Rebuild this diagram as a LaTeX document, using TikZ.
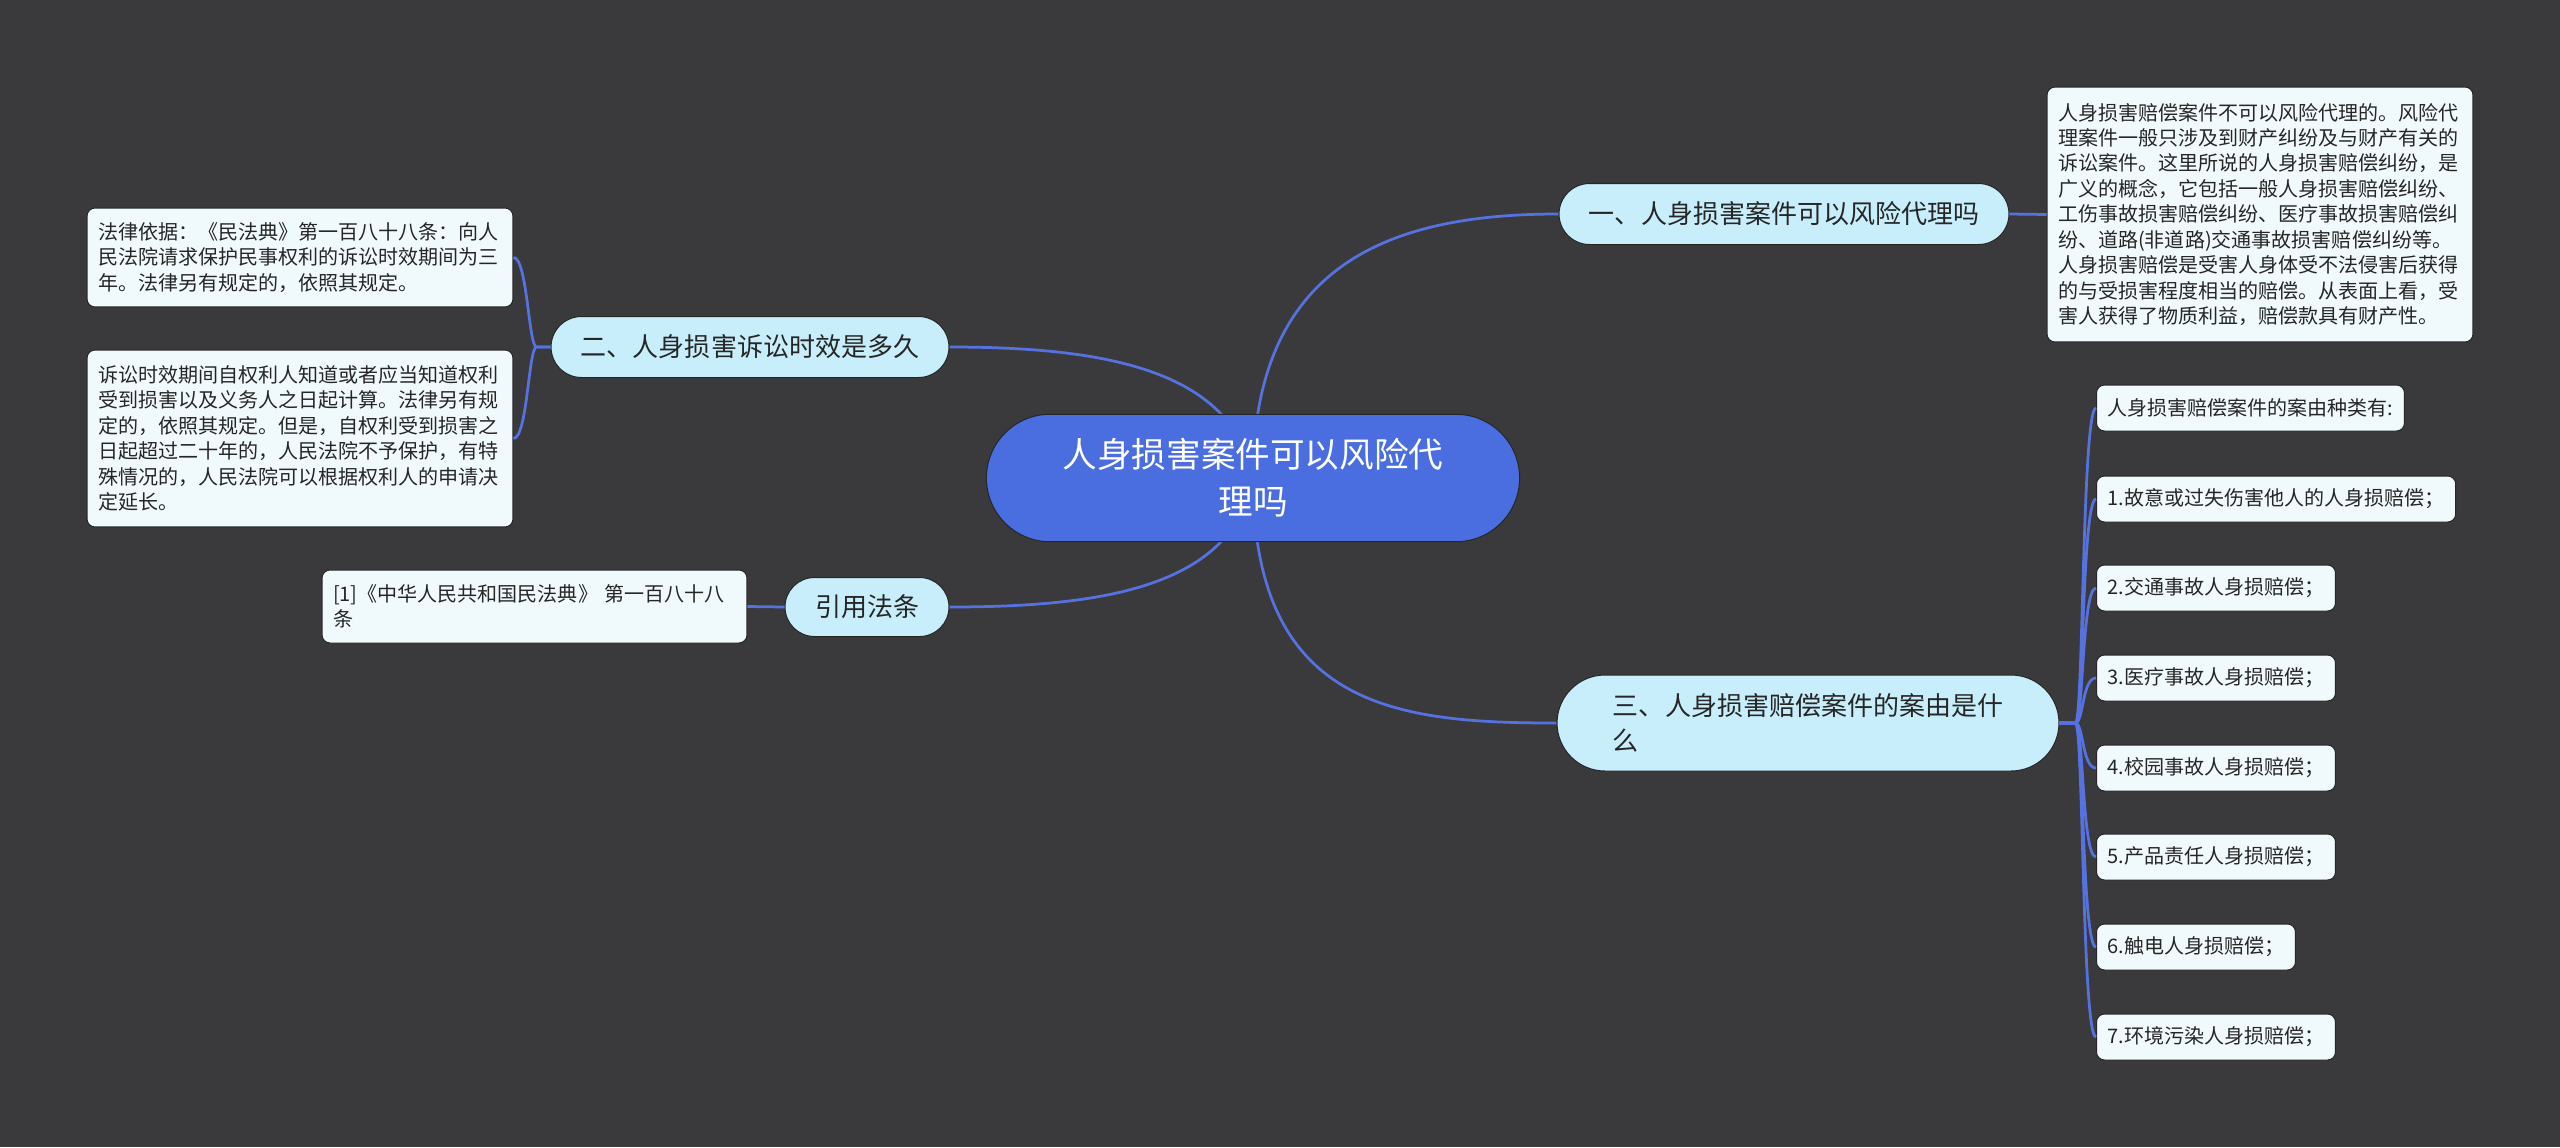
\documentclass[tikz,border=0pt]{standalone}
\usepackage{fontspec}
\setmainfont{Noto Sans CJK SC}
\usepackage{tikz}
\usetikzlibrary{
  positioning,
  shapes.misc,
  backgrounds
}
\definecolor{BgGray}{HTML}{3A393B}
\definecolor{RootBlue}{HTML}{4A6EE0}
\definecolor{LineBlue}{HTML}{5672E0}
\definecolor{BranchCyan}{HTML}{C8EEFC}
\definecolor{LeafWhite}{HTML}{F0FAFD}
\definecolor{EdgeDark}{HTML}{262626}
\definecolor{TextDark}{HTML}{262626}

\begin{document}
\begin{tikzpicture}[
  x=0.02cm,y=-0.02cm,
  rootbox/.style={rounded rectangle,draw=EdgeDark,line width=0.02cm,
    fill=RootBlue,text=white,minimum width=10.9cm,minimum height=2.55cm,
    align=center,font=\fontsize{19.7}{26.7}\selectfont},
  branchbox/.style={rounded rectangle,draw=EdgeDark,line width=0.02cm,
    fill=BranchCyan,text=TextDark,minimum height=1.22cm,inner xsep=0pt,
    font=\fontsize{14.8}{20}\selectfont},
  leafbox/.style={draw=EdgeDark,line width=0.02cm,fill=LeafWhite,
    text=TextDark,rounded corners=0.16cm,inner xsep=0.22cm,inner ysep=0pt,
    align=left,font=\fontsize{11.4}{14.5}\selectfont},
  conn/.style={draw=LineBlue,line width=0.055cm},
]
\useasboundingbox (0,0) rectangle (2560,1147);

% —— 中心与分支 ——
\node[rootbox] (root) at (1253,478)
  {人身损害案件可以风险代\\理吗};
\node[branchbox,minimum width=9.0cm] (b1) at (1784,214)
  {一、人身损害案件可以风险代理吗};
\node[branchbox,minimum width=7.96cm] (b2) at (750,347)
  {二、人身损害诉讼时效是多久};
\node[branchbox,minimum width=3.28cm,minimum height=1.18cm] (bref) at (867,607)
  {引用法条};
\node[branchbox,minimum width=10.04cm,minimum height=1.92cm,align=left] (b3) at (1808,723)
  {三、人身损害赔偿案件的案由是什\\么};

% —— 叶子 ——
\node[leafbox,text width=8.08cm,minimum height=5.1cm] (d1) at (2260,214.5)
  {人身损害赔偿案件不可以风险代理的。风险代\\
   理案件一般只涉及到财产纠纷及与财产有关的\\
   诉讼案件。这里所说的人身损害赔偿纠纷，是\\
   广义的概念，它包括一般人身损害赔偿纠纷、\\
   工伤事故损害赔偿纠纷、医疗事故损害赔偿纠\\
   纷、道路(非道路)交通事故损害赔偿纠纷等。\\
   人身损害赔偿是受害人身体受不法侵害后获得\\
   的与受损害程度相当的赔偿。从表面上看，受\\
   害人获得了物质利益，赔偿款具有财产性。};
\node[leafbox,text width=8.08cm,minimum height=1.98cm] (l1) at (300,257.5)
  {法律依据：《民法典》第一百八十八条：向人\\
   民法院请求保护民事权利的诉讼时效期间为三\\
   年。法律另有规定的，依照其规定。};
\node[leafbox,text width=8.08cm,minimum height=3.54cm] (l2) at (300,438.5)
  {诉讼时效期间自权利人知道或者应当知道权利\\
   受到损害以及义务人之日起计算。法律另有规\\
   定的，依照其规定。但是，自权利受到损害之\\
   日起超过二十年的，人民法院不予保护，有特\\
   殊情况的，人民法院可以根据权利人的申请决\\
   定延长。};
\node[leafbox,text width=8.06cm,minimum height=1.46cm] (lref) at (534.5,606.5)
  {[1]《中华人民共和国民法典》 第一百八十八\\条};

\foreach \i/\y/\t in {0/408/人身损害赔偿案件的案由种类有:,
    1/499/1.故意或过失伤害他人的人身损赔偿；,
    2/588/2.交通事故人身损赔偿；,
    3/678/3.医疗事故人身损赔偿；,
    4/768/4.校园事故人身损赔偿；,
    5/857/5.产品责任人身损赔偿；,
    6/947/6.触电人身损赔偿；,
    7/1037/7.环境污染人身损赔偿；}
  \node[leafbox,anchor=west,minimum height=0.92cm] (r\i) at (2096,\y) {\t};

% —— 连线 ——
\begin{scope}[on background layer]
  \fill[BgGray] (0,0) rectangle (2560,1147);
  \draw[conn] (root.center) .. controls +(0,-220) and +(-160,0) .. (b1.west);
  \draw[conn] (root.center) .. controls +(0,230) and +(-160,0) .. (b3.west);
  \draw[conn] (root.center) .. controls +(-20,-110) and +(150,0) .. (b2.east);
  \draw[conn] (root.center) .. controls +(-20,110) and +(150,0) .. (bref.east);
\end{scope}
\draw[conn] (b1.east) -- (d1.west);
\draw[conn] (bref.west) -- (lref.east);
\foreach \l in {l1,l2}
  \draw[conn] (b2.west) -- ++(-14,0) .. controls +(-8,0) and +(14,0) .. (\l.east);
\foreach \i in {0,...,7}
  \draw[conn] (b3.east) -- ++(16,0) .. controls +(8,0) and +(-14,0) .. (r\i.west);
\end{tikzpicture}
\end{document}
